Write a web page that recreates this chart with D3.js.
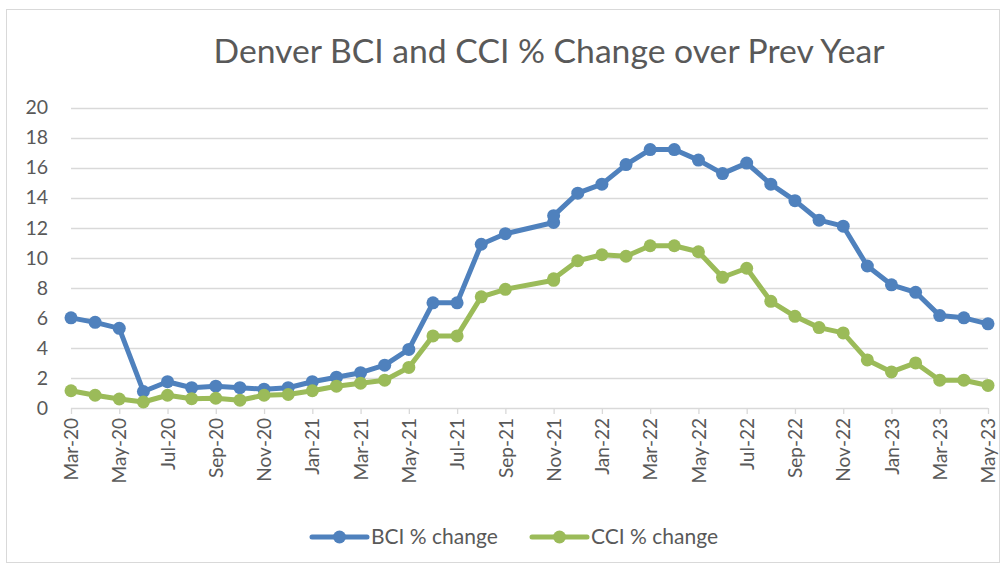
<!DOCTYPE html>
<html>
<head>
<meta charset="utf-8">
<script src="https://cdn.jsdelivr.net/npm/d3@7"></script>
<style>
  body { margin: 0; background: #fff; }
  svg { display: block; font-family: Lato, "Open Sans", sans-serif; }
</style>
</head>
<body>
<div id="chart"></div>
<script>
// data (Oct-21 is missing, Nov-21 appears twice)
var dates = ["2020-03","2020-04","2020-05","2020-06","2020-07","2020-08","2020-09","2020-10","2020-11","2020-12",
             "2021-01","2021-02","2021-03","2021-04","2021-05","2021-06","2021-07","2021-08","2021-09","2021-11","2021-11","2021-12",
             "2022-01","2022-02","2022-03","2022-04","2022-05","2022-06","2022-07","2022-08","2022-09","2022-10","2022-11","2022-12",
             "2023-01","2023-02","2023-03","2023-04","2023-05"];
var bci = [6.0, 5.7, 5.3, 1.1, 1.75, 1.35, 1.45, 1.35, 1.25, 1.35,
           1.75, 2.05, 2.35, 2.85, 3.9, 7.0, 7.0, 10.9, 11.6, 12.35, 12.8, 14.3,
           14.9, 16.2, 17.2, 17.2, 16.5, 15.6, 16.3, 14.9, 13.8, 12.5, 12.1, 9.45,
           8.2, 7.7, 6.15, 6.0, 5.6];
var cci = [1.15, 0.85, 0.6, 0.4, 0.85, 0.62, 0.65, 0.52, 0.85, 0.9,
           1.15, 1.45, 1.65, 1.85, 2.7, 4.8, 4.8, 7.4, 7.9, 8.5, 8.6, 9.8,
           10.2, 10.1, 10.8, 10.8, 10.4, 8.7, 9.3, 7.1, 6.1, 5.35, 5.0, 3.2,
           2.4, 3.0, 1.85, 1.85, 1.5];
var yTicks = [0, 2, 4, 6, 8, 10, 12, 14, 16, 18, 20];
var seriesNames = ["BCI % change", "CCI % change"];
var seriesColors = ["#4f81bd", "#9bbb59"];
var title = "Denver BCI and CCI % Change over Prev Year";

var width = 1006, height = 569;
var parse = d3.timeParse("%Y-%m");
var fmt = d3.timeFormat("%Y-%m");

var svg = d3.select("#chart").append("svg")
    .attr("width", width)
    .attr("height", height);

// chart border
svg.append("rect")
    .attr("x", 6.5).attr("y", 9.5)
    .attr("width", 993).attr("height", 553)
    .attr("fill", "#fff")
    .attr("stroke", "#d9d9d9");

// every month of the span on the x axis
var months = d3.timeMonth.range(parse("2020-03"), d3.timeMonth.offset(parse("2023-05"), 1)).map(fmt);

var x = d3.scalePoint().domain(months).range([71, 988]);
var y = d3.scaleLinear().domain([0, 20]).range([408, 107.5]);

// gridlines
svg.append("g").selectAll("line")
    .data(yTicks.slice(1))
    .enter().append("line")
    .attr("x1", 71).attr("x2", 988)
    .attr("y1", function(d) { return Math.round(y(d)) + 0.5; })
    .attr("y2", function(d) { return Math.round(y(d)) + 0.5; })
    .attr("stroke", "#d9d9d9")
    .attr("stroke-width", 1.3);

// y labels
svg.append("g").selectAll("text")
    .data(yTicks)
    .enter().append("text")
    .attr("x", 48)
    .attr("y", function(d) { return y(d); })
    .attr("dy", "0.35em")
    .attr("text-anchor", "end")
    .attr("fill", "#595959")
    .style("font-size", "19.5px")
    .text(function(d) { return d; });

// x axis
var tickDates = months.filter(function(d, i) { return i % 2 === 0; });
var xAxis = d3.axisBottom(x)
    .tickValues(tickDates)
    .tickSize(6)
    .tickFormat(function(d) { return d3.timeFormat("%b-%y")(parse(d)); });

var gx = svg.append("g")
    .attr("transform", "translate(0," + 408 + ")")
    .call(xAxis);
gx.select(".domain").attr("stroke", "#d9d9d9").attr("stroke-width", 1.3)
    .attr("d", "M71,0.5H988");
gx.selectAll(".tick line").attr("stroke", "#d9d9d9").attr("stroke-width", 1.3);
gx.selectAll(".tick text")
    .attr("fill", "#595959")
    .style("font-size", "19px")
    .style("font-family", "Lato, 'Open Sans', sans-serif")
    .attr("transform", "rotate(-90)")
    .attr("text-anchor", "end")
    .attr("x", -10)
    .attr("y", 0)
    .attr("dy", "0.35em");

// lines and markers
var seriesData = [bci, cci];
var line = d3.line()
    .x(function(d) { return x(d.date); })
    .y(function(d) { return y(d.value); });

seriesData.forEach(function(vals, s) {
    var pts = vals.map(function(v, i) { return { date: dates[i], value: v }; });
    svg.append("path")
        .datum(pts)
        .attr("fill", "none")
        .attr("stroke", seriesColors[s])
        .attr("stroke-width", 5)
        .attr("stroke-linejoin", "round")
        .attr("d", line);
    svg.append("g").selectAll("circle")
        .data(pts)
        .enter().append("circle")
        .attr("cx", function(d) { return x(d.date); })
        .attr("cy", function(d) { return y(d.value); })
        .attr("r", 6.5)
        .attr("fill", seriesColors[s]);
});

// title
svg.append("text")
    .attr("x", 549)
    .attr("y", 63)
    .attr("text-anchor", "middle")
    .attr("fill", "#595959")
    .style("font-size", "33.7px")
    .style("font-weight", 400)
    .text(title);

// legend
var legendX = [312, 532];
seriesNames.forEach(function(name, s) {
    var g = svg.append("g").attr("transform", "translate(" + legendX[s] + ",537)");
    g.append("line")
        .attr("x1", 0).attr("x2", 55)
        .attr("stroke", seriesColors[s])
        .attr("stroke-width", 5)
        .attr("stroke-linecap", "round");
    g.append("circle").attr("cx", 27.5).attr("r", 6.5).attr("fill", seriesColors[s]);
    g.append("text")
        .attr("x", 59)
        .attr("dy", "0.35em")
        .attr("fill", "#595959")
        .style("font-size", "21px")
        .text(name);
});
</script>
</body>
</html>
